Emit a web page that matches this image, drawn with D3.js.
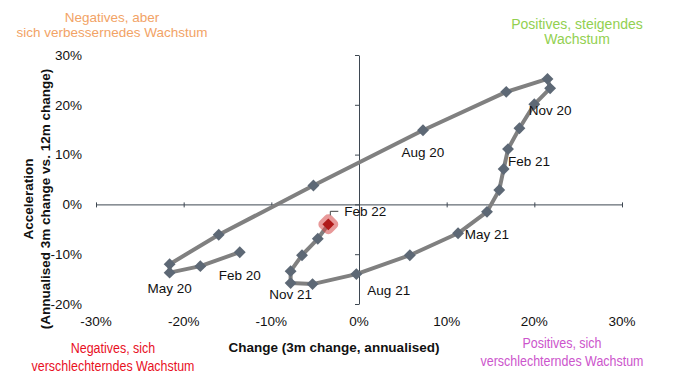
<!DOCTYPE html>
<html><head><meta charset="utf-8">
<script src="https://cdn.jsdelivr.net/npm/d3@7"></script>
<style>
html,body{margin:0;padding:0;background:#fff;}
svg{display:block;font-family:"Liberation Sans",Arial,sans-serif;}
</style></head>
<body><svg id="c" width="695" height="391"></svg>
<script>
// ---- data ----
const months = ["Feb 20","Mar 20","Apr 20","May 20","Jun 20","Jul 20","Aug 20","Sep 20","Oct 20","Nov 20","Dec 20","Jan 21","Feb 21","Mar 21","Apr 21","May 21","Jun 21","Jul 21","Aug 21","Sep 21","Oct 21","Nov 21","Dec 21","Jan 22","Feb 22"];
const changeValues = [-13.6,-18.1,-21.6,-21.6,-16.0,-5.2,7.3,16.8,21.5,21.8,20.0,18.3,17.0,16.5,16.0,14.6,11.3,5.8,-0.3,-5.3,-7.8,-7.8,-6.5,-4.7,-3.5];
const accelValues  = [-9.6,-12.4,-13.7,-12.0,-6.1,3.8,14.9,22.6,25.2,23.3,20.1,15.3,11.1,7.1,2.9,-1.5,-5.8,-10.2,-14.0,-16.0,-15.8,-13.4,-10.2,-6.9,-4.0];
const labelledMonths = ["Feb 20","May 20","Aug 20","Nov 20","Feb 21","May 21","Aug 21","Nov 21"];
const xTicks = [-30,-20,-10,0,10,20,30];
const yTicks = [-20,-10,0,10,20,30];
const xTitle = "Change (3m change, annualised)";
const yTitle = ["Acceleration","(Annualised 3m change vs. 12m change)"];
const quadrants = [
  {lines:["Negatives, aber","sich verbessernedes Wachstum"], color:"#f2a366"},
  {lines:["Positives, steigendes","Wachstum"], color:"#92d050"},
  {lines:["Negatives, sich","verschlechterndes Wachstum"], color:"#e8101f"},
  {lines:["Positives, sich","verschlechterndes Wachstum"], color:"#cc55cc"}
];
// label placement (styling only)
const labelOffsets = {
  "Feb 20":{dx:0,dy:23,a:"middle"}, "May 20":{dx:0,dy:24,a:"middle"},
  "Aug 20":{dx:0,dy:22,a:"middle"}, "Nov 20":{dx:0,dy:22,a:"middle"},
  "Feb 21":{dx:0,dy:12,a:"start"},  "May 21":{dx:0,dy:22,a:"middle"},
  "Aug 21":{dx:11,dy:16,a:"start"}, "Nov 21":{dx:0,dy:23,a:"middle"}
};

const data = months.map((m,i)=>({m, x:changeValues[i], y:accelValues[i]}));
const svg = d3.select("#c");
const x = d3.scaleLinear().domain([-30,30]).range([96,622]);
const y = d3.scaleLinear().domain([-20,30]).range([304,55]);
const axisCol = "#3e4852";

// quadrant texts
const qPos = [{x:112,y:17,cond:false,fs:13.5},{x:577,y:24,cond:false,fs:14},{x:113,y:348,cond:true,fs:14},{x:562,y:343,cond:true,fs:14}];
quadrants.forEach((q,i)=>{
  const p = qPos[i];
  const g = svg.append("g").attr("transform",`translate(${p.x},${p.y}) scale(${p.cond?0.89:1},1)`);
  q.lines.forEach((t,j)=>{
    g.append("text").attr("x",0).attr("y",j*(p.cond?18:15.5)).attr("dy","0.35em")
      .attr("text-anchor","middle").attr("font-size",p.fs).attr("fill",q.color).text(t);
  });
});

// axes lines at zero
const xAxis = d3.axisBottom(x).tickValues(xTicks).tickSize(0).tickFormat("");
svg.append("g").attr("transform",`translate(0,${y(0)})`).call(xAxis)
  .call(g=>g.select(".domain").attr("stroke",axisCol))
  .call(g=>g.selectAll(".tick").append("line").attr("y1",-2).attr("y2",3).attr("stroke",axisCol));
const yAxis = d3.axisLeft(y).tickValues(yTicks).tickSize(4).tickSizeOuter(0).tickFormat("");
svg.append("g").attr("transform",`translate(${x(0)},0)`).call(yAxis)
  .call(g=>g.select(".domain").attr("stroke",axisCol))
  .call(g=>g.selectAll(".tick line").attr("stroke",axisCol));

// tick labels at chart edges
svg.append("g").selectAll("text").data(yTicks).join("text")
  .attr("x",82).attr("y",d=>y(d)).attr("dy","0.35em").attr("text-anchor","end")
  .attr("font-size",13.5).attr("fill","#111").text(d=>d+"%");
svg.append("g").selectAll("text").data(xTicks).join("text")
  .attr("x",d=>x(d)).attr("y",321).attr("dy","0.35em").attr("text-anchor","middle")
  .attr("font-size",13.5).attr("fill","#111").text(d=>d+"%");

// titles
svg.append("text").attr("x",334).attr("y",347).attr("dy","0.35em").attr("text-anchor","middle")
  .attr("font-size",13.5).attr("font-weight","bold").attr("fill","#111").text(xTitle);
const yt = svg.append("g").attr("transform","translate(28,199) rotate(-90)");
yTitle.forEach((t,j)=>yt.append("text").attr("x",0).attr("y",j*17).attr("dy","0.35em")
  .attr("text-anchor","middle").attr("font-size",13.5).attr("font-weight","bold").attr("fill","#111").text(t));

// line
const line = d3.line().x(d=>x(d.x)).y(d=>y(d.y));
svg.append("path").datum(data).attr("d",line).attr("fill","none")
  .attr("stroke","#808080").attr("stroke-width",4).attr("stroke-linejoin","round").attr("stroke-linecap","round");

// markers
const diamond = d3.symbol().type(d3.symbolDiamond2).size(90);
svg.append("g").selectAll("path").data(data.slice(0,-1)).join("path")
  .attr("transform",d=>`translate(${x(d.x)},${y(d.y)})`).attr("d",diamond).attr("fill","#5d6875");

// last point highlighted
const last = data[data.length-1];
const lx = x(last.x), ly = y(last.y);
svg.append("rect").attr("x",-8.5).attr("y",-8.5).attr("width",17).attr("height",17).attr("rx",5)
  .attr("transform",`translate(${lx},${ly}) rotate(45)`).attr("fill","rgba(214,70,70,0.55)");
svg.append("path").attr("transform",`translate(${lx},${ly})`).attr("d",diamond).attr("fill","#b01818");
svg.append("path").attr("d",`M${lx+2},${ly-9}V${ly-13}H${lx+10}`).attr("fill","none").attr("stroke","#444").attr("stroke-width",1);
svg.append("text").attr("x",lx+16).attr("y",ly-13).attr("dy","0.35em").attr("font-size",13.5).attr("fill","#111").text(last.m);

// month labels
svg.append("g").selectAll("text").data(data.filter(d=>labelledMonths.includes(d.m))).join("text")
  .attr("x",d=>x(d.x)+labelOffsets[d.m].dx).attr("y",d=>y(d.y)+labelOffsets[d.m].dy).attr("dy","0.35em")
  .attr("text-anchor",d=>labelOffsets[d.m].a).attr("font-size",13.5).attr("fill","#111").text(d=>d.m);
</script></body></html>
